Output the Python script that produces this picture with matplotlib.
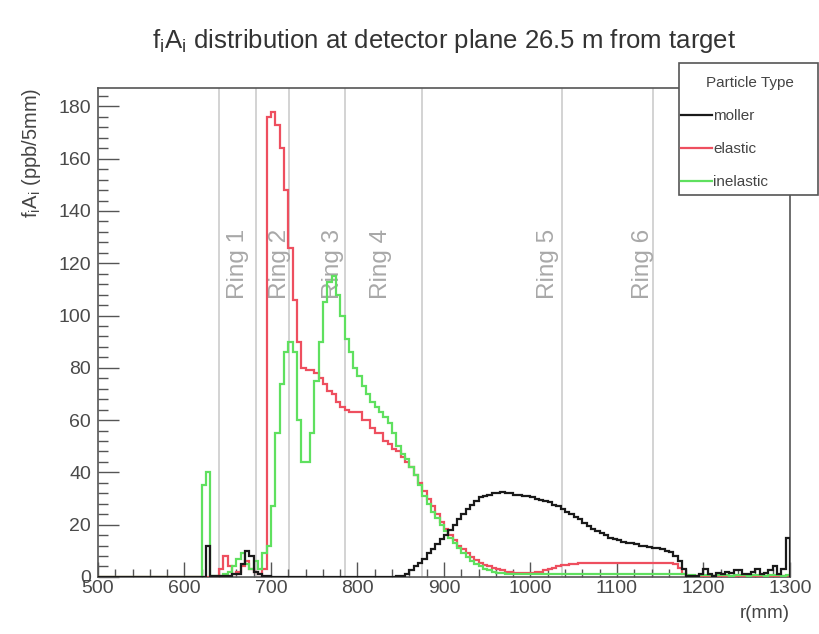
import numpy as np
import matplotlib
matplotlib.use("Agg")
import matplotlib.pyplot as plt
from matplotlib.lines import Line2D
from matplotlib.patches import Rectangle

plt.rcParams['font.family'] = ['Liberation Sans', 'DejaVu Sans']
plt.rcParams['mathtext.fontset'] = 'custom'
plt.rcParams['mathtext.rm'] = 'Liberation Sans'
plt.rcParams['mathtext.it'] = 'Liberation Sans:italic'

# 5 mm bins from 500 to 1300 mm
r_min, r_max, bin_w = 500, 1300, 5

moller = [
    0, 0, 0, 0, 0, 0, 0, 0, 0, 0,
    0, 0, 0, 0, 0, 0, 0, 0, 0, 0,
    0, 0, 0, 0, 0, 12, 0.5, 0.3, 0.3, 0.5,
    0.5, 1, 1, 5, 10, 8, 2, 1, 0.5, 0.3,
    0, 0, 0, 0, 0, 0, 0, 0, 0, 0,
    0, 0, 0, 0, 0, 0, 0, 0, 0, 0,
    0, 0, 0, 0, 0, 0, 0, 0, 0, 0.2,
    0.5, 1, 2.5, 4, 5.5, 7, 9, 10.5, 12.5, 14.5,
    16, 18, 20, 22, 24, 26, 27.5, 29, 30.5, 31,
    31.5, 32, 32, 32.5, 32, 32, 31.5, 31.5, 31, 31,
    30.5, 30, 29.5, 29, 28.5, 27.5, 27, 26, 25, 24,
    23, 22, 20.5, 19.5, 18.5, 17.5, 17, 16, 15, 14.5,
    14, 13.5, 13, 13, 12.5, 12, 12, 11.5, 11, 11,
    10.5, 10, 9.5, 8, 6, 3, 0.5, 0.3, 0.5, 1,
    3, 1, 0.5, 1.5, 1, 2, 1.5, 2.5, 2.5, 1,
    1, 2, 3, 1, 1.5, 2.5, 4, 1, 3, 15,
]

elastic = [
    0, 0, 0, 0, 0, 0, 0, 0, 0, 0,
    0, 0, 0, 0, 0, 0, 0, 0, 0, 0,
    0, 0, 0, 0, 0, 0, 0, 0, 3, 8,
    4, 1, 2, 4, 6, 3, 2, 1, 3, 176,
    178, 173, 164, 148, 126, 106, 90, 80, 79, 79,
    78, 76, 74, 71, 70, 67, 65, 64, 63, 63,
    63, 60, 60, 57, 55, 55, 52, 51, 49, 48,
    46, 44, 42, 39, 36, 33, 30, 27, 24, 21,
    18.5, 16, 14, 12, 10.5, 9, 7.5, 6.5, 5.5, 4.5,
    4, 3.5, 3, 2.5, 2, 2, 1.5, 1.5, 1.5, 1.5,
    1.5, 2, 2, 2.5, 3, 3.5, 4, 4.5, 4.5, 5,
    5, 5.5, 5.5, 5.5, 5.5, 5.5, 5.5, 5.5, 5.5, 5.5,
    5.5, 5.5, 5.5, 5.5, 5.5, 5.5, 5.5, 5.5, 5.5, 5.5,
    5.5, 5.5, 5.5, 5, 3.5, 1, 0.3, 0.3, 0.3, 0.3,
    0.3, 0.3, 0.3, 0.3, 0.3, 0.3, 0.3, 0.3, 0.3, 0.3,
    0.3, 0.3, 0.3, 0.3, 0.3, 0.3, 0.3, 0.3, 0.3, 0.3,
]

inelastic = [
    0, 0, 0, 0, 0, 0, 0, 0, 0, 0,
    0, 0, 0, 0, 0, 0, 0, 0, 0, 0,
    0, 0, 0, 0, 35, 40, 0.5, 0.5, 0.5, 1,
    2, 4, 7, 9, 5, 3, 6, 3, 9, 12,
    27, 55, 74, 86, 90, 86, 60, 44, 44, 55,
    75, 90, 105, 113, 115, 108, 100, 91, 86, 80,
    77, 73, 70, 67, 65, 63, 61, 59, 55, 50,
    47, 45, 42, 39, 35, 31, 28, 25, 22.5, 20,
    17.5, 15, 13, 11, 9, 7.5, 6, 5, 4, 3,
    2.5, 2, 1.5, 1.5, 1.2, 1.2, 1.2, 1.2, 1.2, 1.2,
    1.2, 1.2, 1.2, 1.2, 1.2, 1.2, 1.2, 1.2, 1.2, 1.2,
    1.2, 1.2, 1.2, 1.2, 1.2, 1.2, 1.2, 1.2, 1.2, 1.2,
    1.2, 1.2, 1.2, 1.2, 1.2, 1.2, 1.2, 1.2, 1.2, 1.2,
    1.2, 1.2, 1.2, 1.2, 1.2, 1.2, 0.6, 0.8, 0.5, 0.7,
    0.6, 0.8, 0.5, 0.7, 0.6, 0.8, 0.5, 0.7, 0.6, 0.8,
    0.5, 0.7, 0.6, 0.8, 0.5, 0.7, 0.6, 0.8, 0.5, 0.8,
]

ring_edges = [640, 683, 721, 785, 875, 1036, 1142]
ring_names = ["Ring 1", "Ring 2", "Ring 3", "Ring 4", "Ring 5", "Ring 6"]
ring_label_r = [662, 710, 772, 827, 1020, 1130]

edges = np.arange(r_min, r_max + bin_w, bin_w)

c_moller = '#1a1a1a'
c_elastic = '#ee4f5f'
c_inelastic = '#5fe05f'

fig = plt.figure(figsize=(8.2, 6.34), dpi=100)
ax = fig.add_axes([0.1195, 0.09, 0.8439, 0.771])

for r in ring_edges:
    ax.axvline(r, color='#cccccc', lw=1.2, zorder=1)
for name, r in zip(ring_names, ring_label_r):
    ax.text(r, 106.5, name, rotation=90, rotation_mode='anchor', ha='left',
            va='center', fontsize=17.5, color='#a8a8a8', zorder=2)

ax.stairs(elastic, edges, color=c_elastic, lw=1.6, zorder=3)
ax.stairs(inelastic, edges, color=c_inelastic, lw=1.6, zorder=4)
ax.stairs(moller, edges, color=c_moller, lw=1.6, zorder=5)

ax.set_xlim(r_min, r_max)
ax.set_ylim(0, 187)
ax.set_xticks(np.arange(500, 1301, 100))
ax.set_xticks(np.arange(500, 1301, 20), minor=True)
ax.set_yticks(np.arange(0, 181, 20))
ax.set_yticks(np.arange(0, 187, 4), minor=True)

for s in ax.spines.values():
    s.set_color('#555555')
    s.set_linewidth(1.2)
ax.tick_params(axis='both', which='both', direction='in', colors='#555555',
               labelcolor='#4a4a4a', labelsize=14, width=1.0)
ax.tick_params(axis='y', which='major', length=15, pad=5)
ax.tick_params(axis='y', which='minor', length=7.5)
ax.tick_params(axis='x', which='major', length=11, pad=2)
ax.tick_params(axis='x', which='minor', length=5.5)

ax.set_xlabel('r(mm)', fontsize=13.5, color='#444444', loc='right')
ax.xaxis.set_label_coords(1.0, -0.058)
ax.set_ylabel(r'f$_\mathrm{i}$A$_\mathrm{i}$ (ppb/5mm)', fontsize=14.5,
              color='#444444', loc='top')
ax.yaxis.set_label_coords(-0.08, 1.0)

fig.text(0.5415, 0.935, r'f$_\mathrm{i}$A$_\mathrm{i}$ distribution at detector plane 26.5 m from target',
         ha='center', va='center', fontsize=18.5, color='#333333')

# legend box (sticks out past the frame like the ROOT TLegend)
fig.patches.append(Rectangle((679 / 820, 1 - 195 / 634), 139 / 820, 132 / 634,
                             transform=fig.transFigure, facecolor='white',
                             edgecolor='#555555', lw=1.2, zorder=10))
handles = [Line2D([], [], color=c_moller, lw=1.6),
           Line2D([], [], color=c_elastic, lw=1.6),
           Line2D([], [], color=c_inelastic, lw=1.6)]
leg = fig.legend(handles, ['moller', 'elastic', 'inelastic'], title='Particle Type',
                 loc='upper left', bbox_to_anchor=(681 / 820, 1 - 76 / 634, 137 / 820, 0.0),
                 mode='expand', fontsize=11, title_fontsize=11, frameon=False,
                 labelspacing=1.25, borderpad=0, handlelength=2.0,
                 handletextpad=0.1, borderaxespad=0)
leg.set_zorder(11)
for t in leg.get_texts():
    t.set_color('#444444')
leg.get_title().set_color('#444444')

fig.savefig('out.png', dpi=100)
